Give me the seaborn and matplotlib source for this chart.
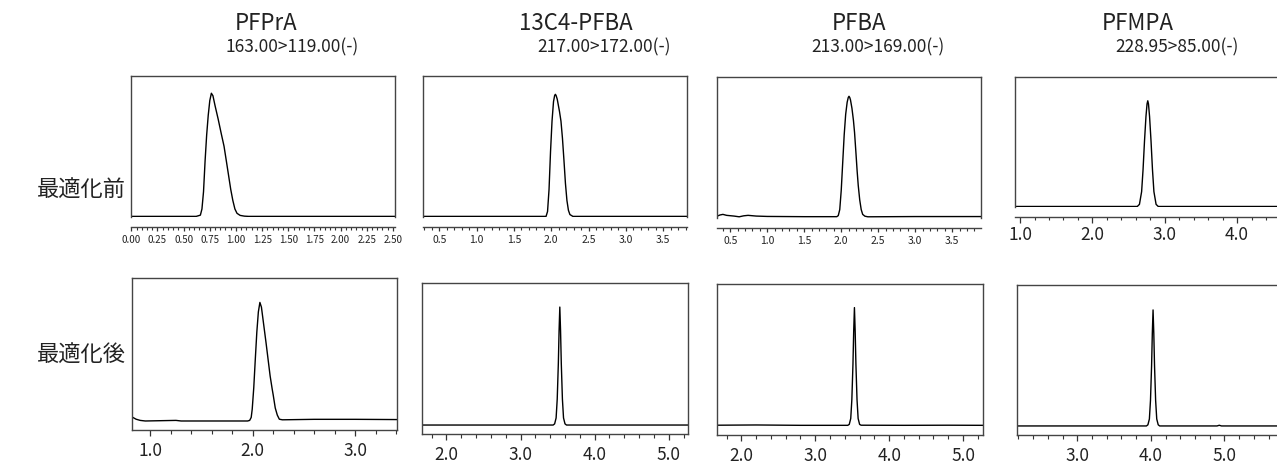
import seaborn as sns
import matplotlib.pyplot as plt
from matplotlib.ticker import MultipleLocator, FormatStrFormatter

# compound names / transitions
titles = ["PFPrA", "13C4-PFBA", "PFBA", "PFMPA"]
transitions = ["163.00>119.00(-)", "217.00>172.00(-)", "213.00>169.00(-)", "228.95>85.00(-)"]
row_labels = ["最適化前", "最適化後"]

# --- before optimisation (retention time, intensity % of peak) ---
rt_pfpra_pre = [0.00, 0.30, 0.62, 0.66, 0.675, 0.69, 0.705, 0.72, 0.735, 0.75, 0.765, 0.78, 0.80,
                0.83, 0.86, 0.886, 0.91, 0.93, 0.95, 0.97, 0.99, 1.01, 1.04, 1.08, 1.12, 1.5, 2.0, 2.52]
sig_pfpra_pre = [0, 0, 0, 1, 6, 20, 45, 66, 82, 94, 100, 98, 90,
                 79, 67, 57, 44, 33, 22, 13, 6, 2.5, 0.8, 0.2, 0, 0, 0, 0]

rt_c4pfba_pre = [0.28, 1.0, 1.93, 1.95, 1.97, 1.99, 2.01, 2.03, 2.045, 2.055, 2.065, 2.08, 2.11, 2.13,
                 2.15, 2.17, 2.19, 2.21, 2.23, 2.25, 2.29, 3.0, 3.82]
sig_c4pfba_pre = [0, 0, 0, 4, 22, 53, 78, 94, 99, 100, 99, 96, 86, 78,
                  64, 46, 27, 13, 5, 1.5, 0, 0, 0]

rt_pfba_pre = [0.32, 0.36, 0.40, 0.45, 0.55, 0.62, 0.68, 0.74, 0.85, 1.0, 1.5, 1.94, 1.96, 1.98,
               2.00, 2.02, 2.04, 2.06, 2.08, 2.095, 2.105, 2.115, 2.125, 2.145, 2.165, 2.18, 2.20,
               2.215, 2.23, 2.25, 2.27, 2.29, 2.32, 2.36, 3.0, 3.89]
sig_pfba_pre = [0.5, 1.5, 2.0, 1.2, 0.6, 0.0, 0.8, 1.2, 0.6, 0.3, 0.1, 0.1, 1, 6,
                22, 45, 68, 85, 95, 99, 100, 99, 97, 90, 80, 70, 52,
                38, 26, 14, 6, 2, 0.5, 0, 0.2, 0.2]

rt_pfmpa_pre = [0.93, 2.0, 2.62, 2.65, 2.68, 2.70, 2.72, 2.74, 2.755, 2.765, 2.775, 2.79, 2.81,
                2.83, 2.85, 2.88, 2.91, 3.5, 4.8]
sig_pfmpa_pre = [0, 0, 0, 2, 14, 35, 62, 85, 97, 100, 97, 85, 62,
                 35, 14, 2, 0, 0, 0]

# --- after optimisation ---
rt_pfpra_post = [0.82, 0.86, 0.90, 0.95, 1.25, 1.30, 1.95, 1.97, 1.985, 1.995, 2.01, 2.025, 2.04,
                 2.055, 2.07, 2.085, 2.10, 2.115, 2.13, 2.15, 2.17, 2.19, 2.20, 2.22, 2.24, 2.26,
                 2.29, 2.6, 3.0, 3.41]
sig_pfpra_post = [3.4, 1.5, 0.5, 0, 0.5, 0, 0, 0.5, 3, 10, 28, 52, 75,
                  92, 100, 96, 86, 76, 66, 52, 38, 27, 22, 11, 5, 1.5,
                  1.0, 1.4, 1.4, 1.2]

rt_c4pfba_post = [1.67, 3.0, 3.44, 3.46, 3.48, 3.495, 3.51, 3.52, 3.53, 3.54, 3.55, 3.565, 3.58,
                  3.60, 3.62, 3.64, 4.5, 5.26]
sig_c4pfba_post = [0, 0, 0, 1, 6, 22, 52, 80, 100, 80, 52, 22, 6,
                   1, 0, 0, 0, 0]

rt_pfba_post = [1.67, 2.2, 2.8, 3.44, 3.46, 3.48, 3.495, 3.51, 3.52, 3.53, 3.54, 3.55, 3.565, 3.58,
                3.60, 3.62, 4.2, 4.8, 5.27]
sig_pfba_post = [0.3, 0.5, 0.2, 0.2, 1, 6, 22, 52, 80, 100, 80, 52, 22, 6,
                 1, 0.3, 0.2, 0.3, 0.2]

rt_pfmpa_post = [2.18, 3.5, 3.94, 3.96, 3.98, 3.995, 4.01, 4.02, 4.03, 4.04, 4.05, 4.065, 4.08,
                 4.10, 4.12, 4.90, 4.93, 4.96, 5.96]
sig_pfmpa_post = [0, 0, 0, 1, 6, 22, 52, 80, 100, 80, 52, 22, 6,
                  1, 0, 0, 0.6, 0, 0]

sns.set_style("white")
plt.rcParams['font.family'] = ['Noto Sans CJK JP', 'DejaVu Sans']

W, H = 1277, 464
fig = plt.figure(figsize=(W / 100, H / 100), dpi=100)


def add_panel(box, rt, sig, xlim, ylim, major, minor, fmt, fs, top_row, maj_len, min_len, pad):
    l, t, r, b = box
    ax = fig.add_axes([l / W, 1 - b / H, (r - l) / W, (b - t) / H])
    sns.lineplot(x=rt, y=sig, ax=ax, color="black", linewidth=1.0, estimator=None, sort=False)
    ax.set_xlim(*xlim)
    ax.set_ylim(*ylim)
    ax.set_xlabel("")
    ax.set_ylabel("")
    ax.set_yticks([])
    ax.xaxis.set_major_locator(MultipleLocator(major))
    ax.xaxis.set_minor_locator(MultipleLocator(minor))
    ax.xaxis.set_major_formatter(FormatStrFormatter(fmt))
    ax.tick_params(axis="x", which="major", direction="out", length=maj_len, width=0.9,
                   color="#333333", labelsize=fs, pad=pad, bottom=True)
    ax.tick_params(axis="x", which="minor", direction="out", length=min_len, width=0.8,
                   color="#333333", bottom=True)
    for s in ax.spines.values():
        s.set_color("#444444")
        s.set_linewidth(1.0)
        s.set_visible(True)
    if top_row:
        ax.spines["bottom"].set_position(("outward", 7.2))
    for lab in ax.get_xticklabels():
        lab.set_color("#222222")
    return ax


# top row
add_panel((131, 77, 395, 218), rt_pfpra_pre, sig_pfpra_pre, (-0.003, 2.52), (-0.5, 114),
          0.25, 0.05, "%.2f", 7, True, 3, 2.2, 2.0)
add_panel((423, 77, 687, 218), rt_c4pfba_pre, sig_c4pfba_pre, (0.28, 3.82), (-0.5, 115),
          0.5, 0.1, "%.1f", 7.5, True, 3, 2.2, 2.0)
add_panel((717, 78, 981, 219), rt_pfba_pre, sig_pfba_pre, (0.32, 3.89), (-1.0, 116),
          0.5, 0.1, "%.1f", 7.5, True, 3, 2.2, 2.0)
add_panel((1015, 78, 1295, 208), rt_pfmpa_pre, sig_pfmpa_pre, (0.93, 4.80), (-0.5, 122.5),
          1.0, 0.2, "%.1f", 12.5, True, 4.5, 2.5, 1.0)

# bottom row
add_panel((132, 279, 397, 431), rt_pfpra_post, sig_pfpra_post, (0.82, 3.41), (-7.6, 120.6),
          1.0, 0.2, "%.1f", 12.5, False, 4.5, 2.8, 3.5)
add_panel((422, 284, 688, 435), rt_c4pfba_post, sig_c4pfba_post, (1.67, 5.26), (-7.6, 120.4),
          1.0, 0.2, "%.1f", 12.5, False, 4.5, 2.8, 3.5)
add_panel((717, 285, 983, 436), rt_pfba_post, sig_pfba_post, (1.67, 5.27), (-8.0, 120.0),
          1.0, 0.2, "%.1f", 12.5, False, 4.5, 2.8, 3.5)
add_panel((1017, 286, 1295, 436), rt_pfmpa_post, sig_pfmpa_post, (2.18, 5.96), (-7.8, 121.5),
          1.0, 0.2, "%.1f", 12.5, False, 4.5, 2.8, 3.5)

# headings
title_x = [266, 576, 859, 1138]
sub_x = [292, 604, 878, 1177]
for name, trans, tx, sx in zip(titles, transitions, title_x, sub_x):
    fig.text(tx / W, 1 - 23 / H, name, ha="center", va="center", fontsize=16, color="#222222")
    fig.text(sx / W, 1 - 47 / H, trans, ha="center", va="center", fontsize=12.5, color="#222222")

fig.text(81 / W, 1 - 190 / H, row_labels[0], ha="center", va="center", fontsize=16, color="#222222")
fig.text(81 / W, 1 - 355 / H, row_labels[1], ha="center", va="center", fontsize=16, color="#222222")

fig.savefig("out.png", dpi=100)
